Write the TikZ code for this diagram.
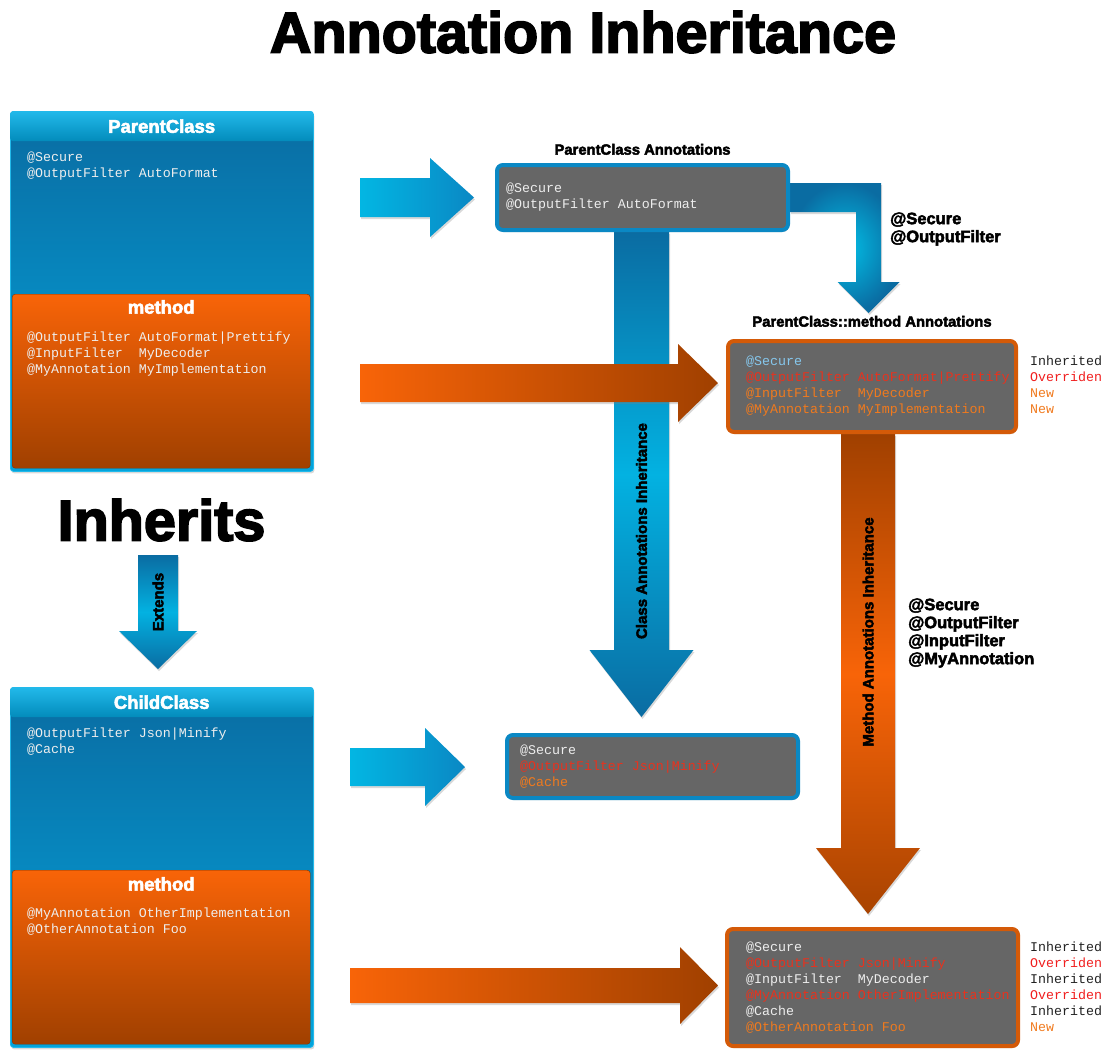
\documentclass[tikz,border=0pt]{standalone}
\usepackage{fontspec}
\setmainfont{Liberation Sans}
\newfontfamily\codefont{Liberation Mono}
\newfontfamily\heavyfont{Liberation Sans}[BoldFeatures={FakeBold=3}]
\usetikzlibrary{positioning,calc,shadows}
\definecolor{bluedark}{HTML}{0A6CA2}
\definecolor{bluelight}{HTML}{03A4DC}
\definecolor{bluehead}{HTML}{22B9EA}
\definecolor{blueedge}{HTML}{0A88C4}
\definecolor{orangelight}{HTML}{F86408}
\definecolor{orangedark}{HTML}{A04000}
\definecolor{orangeedge}{HTML}{D45A08}
\definecolor{boxgray}{HTML}{666666}
\definecolor{codewhite}{HTML}{EEEEEE}
\definecolor{codeblue}{HTML}{86C8EE}
\definecolor{codeovr}{HTML}{E8321E}
\definecolor{codenew}{HTML}{F07A1E}
\definecolor{labinh}{HTML}{222222}
\definecolor{labovr}{HTML}{F01E1E}

% block arrows: [style]{x start}{x tip}{y mid}{half shaft}{half head}{head length}
\newcommand\rightblock[7][]{%
  \path[#1] (#2,#4-#5) -- (#3-#7,#4-#5) -- (#3-#7,#4-#6) -- (#3,#4)
    -- (#3-#7,#4+#6) -- (#3-#7,#4+#5) -- (#2,#4+#5) -- cycle;}
% [style]{x mid}{y start}{y tip}{half shaft}{half head}{head length}
\newcommand\downblock[7][]{%
  \path[#1] (#2-#5,#3) -- (#2+#5,#3) -- (#2+#5,#4-#7) -- (#2+#6,#4-#7)
    -- (#2,#4) -- (#2-#6,#4-#7) -- (#2-#5,#4-#7) -- cycle;}

\begin{document}
\begin{tikzpicture}[x=1pt,y=-1pt,
  softshadow/.style={drop shadow={shadow xshift=1pt, shadow yshift=-2pt, opacity=0.3}},
  classbox/.style={anchor=north west, inner sep=0, minimum width=303pt, minimum height=360pt,
    rounded corners=3pt, draw=bluehead, line width=0.8pt, top color=bluedark, bottom color=bluelight, softshadow},
  classhead/.style={anchor=north west, inner sep=0, minimum width=303pt, minimum height=30pt,
    rounded corners=3pt, top color=bluehead, bottom color=bluelight!85!black, text=white,
    font=\heavyfont\bfseries\fontsize{18.5}{20}\selectfont},
  methodbox/.style={anchor=north west, inner sep=0, minimum width=298pt, minimum height=174pt,
    rounded corners=3pt, top color=orangelight, bottom color=orangedark, draw=orangedark!80!black, line width=0.4pt},
  methodtitle/.style={text=white, inner sep=0, font=\heavyfont\bfseries\fontsize{18.5}{20}\selectfont},
  codetext/.style={anchor=west, align=left, inner sep=0, text=codewhite,
    font=\codefont\fontsize{13.3}{16}\selectfont},
  annbox/.style={inner sep=0, rounded corners=6pt, fill=boxgray, line width=4pt, softshadow},
  boxlabel/.style={inner sep=0, font=\heavyfont\bfseries\fontsize{14.8}{16}\selectfont},
  arrowlabel/.style={inner sep=0, align=left, font=\heavyfont\bfseries\fontsize{16.5}{18}\selectfont},
  sidelabel/.style={inner sep=0, font=\heavyfont\bfseries\fontsize{15}{18}\selectfont},
  biglabel/.style={inner sep=0, font=\heavyfont\bfseries\fontsize{57.5}{60}\selectfont},
  bluearrowh/.style={left color=bluelight!80!cyan, right color=blueedge, softshadow},
  bluearrowv/.style={top color=bluedark, bottom color=bluedark, middle color=bluelight!85!cyan, softshadow},
  orangearrowh/.style={left color=orangelight, right color=orangedark, softshadow},
  orangearrowv/.style={top color=orangedark, bottom color=orangedark!90!orangelight, middle color=orangelight, softshadow},
]
\useasboundingbox (0,0) rectangle (1110,1060);

% titles
\node[biglabel] (title) at (583,32) {Annotation Inheritance};
\node[biglabel] (inherits) at (161.5,520) {Inherits};

% big arrows, behind the boxes
\downblock[bluearrowv]{641.5}{232}{717}{27.5}{52}{67}
\path[inner color=bluelight!70!cyan, outer color=bluedark, softshadow]
  (790,183) -- (881,183) -- (881,282) -- (899.5,282) -- (868.5,313) -- (837.5,282)
  -- (856,282) -- (856,212) -- (790,212) -- cycle;
\downblock[orangearrowv]{868}{434}{914}{27}{52}{66}
\downblock[bluearrowv]{158}{555}{669}{20}{39}{38}
\rightblock[bluearrowh]{360}{474}{197.5}{19.5}{39.5}{44}
\rightblock[orangearrowh]{360}{718}{383}{19}{39}{40}
\rightblock[bluearrowh]{350}{465}{767}{19}{39}{40}
\rightblock[orangearrowh]{350}{718}{985.5}{17.5}{38.5}{38}

% arrow labels
\node[sidelabel, rotate=90] (extendslabel) at (158,602) {Extends};
\node[sidelabel, rotate=90] (classlabel) at (641.5,531) {Class Annotations Inheritance};
\node[sidelabel, rotate=90] (methodlabel) at (868,632) {Method Annotations Inheritance};
\node[arrowlabel, anchor=west] (bendlabel) at (890,229) {@Secure\\@OutputFilter};
\node[arrowlabel, anchor=west] (methodlist) at (908,633) {@Secure\\@OutputFilter\\@InputFilter\\@MyAnnotation};

% ParentClass
\node[classbox] (parent) at (10,111) {};
\node[classhead] (parenthead) at (parent.north west) {ParentClass};
\node[codetext] (parentcode) at (27,166) {@Secure\\@OutputFilter AutoFormat};
\node[methodbox] (pmethod) at (12,294) {};
\node[methodtitle] (pmethodtitle) at ([yshift=-13pt]pmethod.north) {method};
\node[codetext] (pmethodcode) at (27,354)
  {@OutputFilter AutoFormat|Prettify\\@InputFilter\ \ MyDecoder\\@MyAnnotation MyImplementation};

% ChildClass
\node[classbox] (child) at (10,687) {};
\node[classhead] (childhead) at (child.north west) {ChildClass};
\node[codetext] (childcode) at (27,742) {@OutputFilter Json|Minify\\@Cache};
\node[methodbox] (cmethod) at (12,870) {};
\node[methodtitle] (cmethodtitle) at ([yshift=-14pt]cmethod.north) {method};
\node[codetext] (cmethodcode) at (27,922) {@MyAnnotation OtherImplementation\\@OtherAnnotation Foo};

% ParentClass annotations
\node[annbox, draw=blueedge, minimum width=291pt, minimum height=65pt] (pcann) at (642.5,197.5) {};
\node[boxlabel, above=8pt of pcann.north] (pcannlabel) {ParentClass Annotations};
\node[codetext] (pcanntext) at ([xshift=11pt]pcann.west) {@Secure\\@OutputFilter AutoFormat};

% ParentClass::method annotations
\node[annbox, draw=orangeedge, minimum width=288pt, minimum height=91pt] (pmann) at (872,386.5) {};
\node[boxlabel, above=12pt of pmann.north] (pmannlabel) {ParentClass::method Annotations};
\node[codetext] (pmanntext) at ([xshift=20pt]pmann.west)
  {\textcolor{codeblue}{@Secure}\\
   \textcolor{codeovr}{@OutputFilter AutoFormat|Prettify}\\
   \textcolor{codenew}{@InputFilter\ \ MyDecoder}\\
   \textcolor{codenew}{@MyAnnotation MyImplementation}};
\node[codetext, anchor=north west, xshift=12pt] (pmannside) at (pmanntext.north -| pmann.east)
  {\textcolor{labinh}{Inherited}\\\textcolor{labovr}{Overriden}\\
   \textcolor{codenew}{New}\\\textcolor{codenew}{New}};

% ChildClass annotations
\node[annbox, draw=blueedge, minimum width=291pt, minimum height=63pt] (ccann) at (652.5,766.5) {};
\node[codetext] (ccanntext) at ([xshift=15pt]ccann.west)
  {@Secure\\\textcolor{codeovr}{@OutputFilter Json|Minify}\\\textcolor{codenew}{@Cache}};

% ChildClass::method annotations
\node[annbox, draw=orangeedge, minimum width=291pt, minimum height=117pt] (cmann) at (872.5,987.5) {};
\node[codetext] (cmanntext) at ([xshift=21pt]cmann.west)
  {@Secure\\
   \textcolor{codeovr}{@OutputFilter Json|Minify}\\
   @InputFilter\ \ MyDecoder\\
   \textcolor{codeovr}{@MyAnnotation OtherImplementation}\\
   @Cache\\
   \textcolor{codenew}{@OtherAnnotation Foo}};
\node[codetext, anchor=north west, xshift=10pt] (cmannside) at (cmanntext.north -| cmann.east)
  {\textcolor{labinh}{Inherited}\\\textcolor{labovr}{Overriden}\\
   \textcolor{labinh}{Inherited}\\\textcolor{labovr}{Overriden}\\
   \textcolor{labinh}{Inherited}\\\textcolor{codenew}{New}};
\end{tikzpicture}
\end{document}
